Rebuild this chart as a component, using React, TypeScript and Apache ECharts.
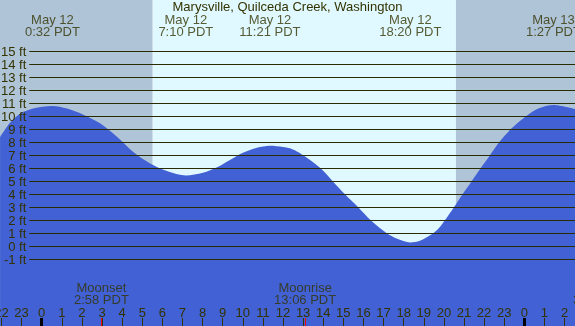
import { useEffect, useRef } from "react";
import * as echarts from "echarts";

const TITLE = "Marysville, Quilceda Creek, Washington";

// tide curve: hour of May 12 (PDT) -> height in ft
const tideHours = [-2.07, -1.58, -1.08, -0.43, 0.53, 1.26, 2.05, 2.9, 3.74, 4.54, 5.39, 6.23, 7.17, 8.02, 8.72, 9.36, 10.01, 10.7, 11.35, 12.0, 12.35, 12.69, 13.01, 13.87, 14.47, 15.08, 15.74, 16.36, 17.16, 17.65, 18.33, 18.81, 19.47, 19.81, 20.05, 20.5, 20.93, 21.38, 21.83, 22.29, 22.75, 23.32, 24.08, 24.7, 25.45, 26.52];
const tideFeet = [8.4, 9.5, 10.2, 10.6, 10.8, 10.6, 10.15, 9.46, 8.43, 7.28, 6.38, 5.79, 5.45, 5.66, 6.08, 6.64, 7.2, 7.58, 7.74, 7.65, 7.54, 7.3, 7, 6, 5, 4, 3, 2, 1, 0.6, 0.3, 0.43, 1, 1.5, 2, 3, 4, 5, 6, 7, 8, 9, 10, 10.6, 10.87, 10.56];

const extremeHours = [0.533, 7.167, 11.35, 18.333, 25.45];
const extremeLabels = ["May 12\n0:32 PDT", "May 12\n7:10 PDT", "May 12\n11:21 PDT", "May 12\n18:20 PDT", "May 13\n1:27 PDT"];

const moonHours = [2.967, 13.1, 27.78];
const moonLabels = ["Moonset\n2:58 PDT", "Moonrise\n13:06 PDT", "Moonset\n3:47 PDT"];

const hourTickValues = [-2, -1, 0, 1, 2, 3, 4, 5, 6, 7, 8, 9, 10, 11, 12, 13, 14, 15, 16, 17, 18, 19, 20, 21, 22, 23, 24, 25, 26];
const midnightHours = [0, 24];
const feetLevels = [-1, 0, 1, 2, 3, 4, 5, 6, 7, 8, 9, 10, 11, 12, 13, 14, 15];

const sunriseHour = 5.52;
const sunsetHour = 20.6;

const X_MIN = -2.074;
const X_MAX = 26.52;
const Y_MIN = -6.13;
const Y_MAX = 18.95;

const W = 575;
const H = 326;
const LABEL_GUTTER_PX = 29.3;

const TEXT = "#333300";
const LINE = "#2b2b00";
const NIGHT = "#b0c4d8";
const DAY = "#e0f8ff";
const WATER = "#4161d4";
const FONT = "Liberation Sans";

export default function App() {
  const ref = useRef<HTMLDivElement>(null);
  useEffect(() => {
    document.body.style.margin = "0";
    const chart = echarts.init(ref.current!, null, { renderer: "svg" });
    const lineStartHour = X_MIN + (LABEL_GUTTER_PX / W) * (X_MAX - X_MIN);
    const wrap = (v: number) => String(((v % 24) + 24) % 24);

    const baseX = {
      type: "value",
      min: X_MIN,
      max: X_MAX,
      position: "bottom",
      z: 6,
      axisLine: { show: false, onZero: false },
      splitLine: { show: false },
    };

    chart.setOption({
      animation: false,
      textStyle: { fontFamily: FONT, fontSize: 13, color: TEXT },
      title: {
        text: TITLE,
        left: "center",
        top: 0,
        padding: 0,
        textStyle: { fontFamily: FONT, fontSize: 13, fontWeight: "normal", color: TEXT },
      },
      grid: { left: 0, right: 0, top: 0, bottom: 0, containLabel: false, outerBoundsMode: "none" },
      xAxis: [
        {
          ...baseX,
          axisTick: { show: true, inside: true, length: 8, customValues: hourTickValues, lineStyle: { color: TEXT, width: 1 } },
          axisLabel: {
            show: true,
            inside: true,
            margin: 7,
            customValues: hourTickValues,
            formatter: (v: number) => wrap(v),
            color: TEXT,
            fontFamily: FONT,
            fontSize: 13,
            hideOverlap: false,
          },
        },
        {
          ...baseX,
          axisTick: { show: true, inside: true, length: 8, customValues: midnightHours, lineStyle: { color: "#000000", width: 3 } },
          axisLabel: { show: false },
        },
        {
          ...baseX,
          axisTick: { show: true, inside: true, length: 8, customValues: moonHours, lineStyle: { color: "#ff0000", width: 1 } },
          axisLabel: { show: false },
        },
      ],
      yAxis: {
        type: "value",
        min: Y_MIN,
        max: Y_MAX,
        show: false,
        splitLine: { show: false },
      },
      series: [
        {
          type: "line",
          z: 1,
          data: [],
          silent: true,
          markArea: {
            silent: true,
            data: [
              [{ xAxis: X_MIN, itemStyle: { color: NIGHT } }, { xAxis: sunriseHour }],
              [{ xAxis: sunriseHour, itemStyle: { color: DAY } }, { xAxis: sunsetHour }],
              [{ xAxis: sunsetHour, itemStyle: { color: NIGHT } }, { xAxis: X_MAX }],
            ],
          },
        },
        {
          type: "line",
          z: 2,
          data: tideHours.map((h, i) => [h, tideFeet[i]]),
          showSymbol: false,
          smooth: 0.3,
          lineStyle: { width: 0 },
          areaStyle: { color: WATER, opacity: 1, origin: "start" },
          silent: true,
        },
        {
          type: "line",
          z: 3,
          data: [],
          silent: true,
          markLine: {
            silent: true,
            symbol: ["none", "none"],
            lineStyle: { color: LINE, width: 1, type: "solid" },
            label: {
              show: true,
              position: "start",
              distance: 3,
              formatter: "{b}",
              color: TEXT,
              fontFamily: FONT,
              fontSize: 13,
            },
            data: feetLevels.map((v) => [
              { coord: [lineStartHour, v], name: `${v} ft` },
              { coord: [X_MAX, v] },
            ]),
          },
        },
        {
          type: "scatter",
          z: 4,
          clip: false,
          silent: true,
          symbolSize: 1,
          itemStyle: { color: "transparent" },
          data: extremeHours.map((h, i) => ({ value: [h, Y_MAX], name: extremeLabels[i] })),
          label: {
            show: true,
            position: "bottom",
            distance: 12.5,
            formatter: "{b}",
            color: TEXT,
            fontFamily: FONT,
            fontSize: 13,
            lineHeight: 12.4,
            align: "center",
          },
        },
        {
          type: "scatter",
          z: 4,
          clip: false,
          silent: true,
          symbolSize: 1,
          itemStyle: { color: "transparent" },
          data: moonHours.map((h, i) => ({ value: [h, Y_MIN], name: moonLabels[i] })),
          label: {
            show: true,
            position: "top",
            distance: 20.5,
            formatter: "{b}",
            color: TEXT,
            fontFamily: FONT,
            fontSize: 13,
            lineHeight: 11.8,
            align: "center",
          },
        },
      ],
    });
    return () => chart.dispose();
  }, []);
  return <div ref={ref} style={{ width: W, height: H, position: "fixed", left: 0, top: 0 }} />;
}
